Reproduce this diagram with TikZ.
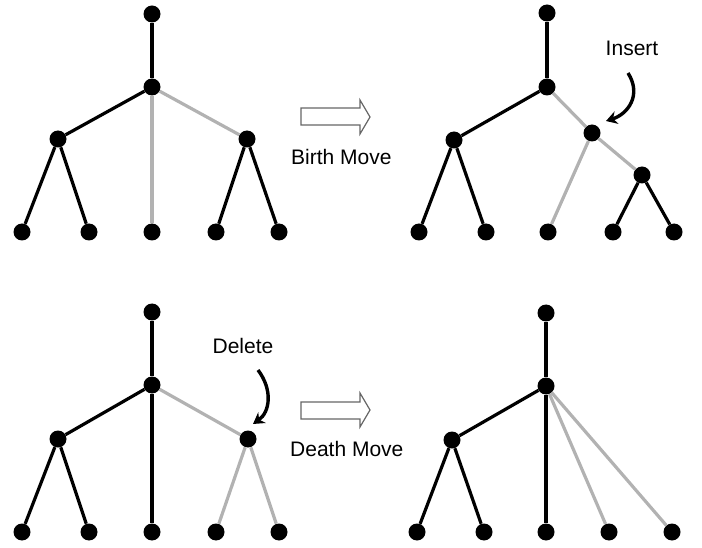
\documentclass[tikz,border=0pt]{standalone}
\usepackage{fontspec}
\setmainfont{Liberation Sans}
\usetikzlibrary{arrows.meta, positioning}

\begin{document}
\begin{tikzpicture}[x=1pt, y=-1pt,
        dot/.style={circle, fill=black, inner sep=0pt, minimum size=17pt},
        blackedge/.style={draw=black, line width=3.2pt},
        grayedge/.style={draw=black!30, line width=3.2pt},
        movearrow/.style={draw=black!60, fill=white, line width=1.2pt, line join=miter},
        pointer/.style={draw=black, line width=3.4pt, -{Stealth[length=11pt, width=13pt]}},
        label/.style={font=\fontsize{21}{24}\selectfont, inner sep=0pt}]

    \useasboundingbox (0,0) rectangle (702,548);

    % birth move, before
    \node[dot] (a0) at (152,14) {};
    \node[dot] (a1) at (152,87) {};
    \node[dot] (a2) at (58,139) {};
    \node[dot] (a3) at (247,139) {};
    \foreach \x [count=\i from 4] in {22, 89, 152, 216, 279}
        \node[dot] (a\i) at (\x,232) {};

    \draw[blackedge] (a0) -- (a1);
    \draw[blackedge] (a1) -- (a2);
    \draw[grayedge] (a1) -- (a3);
    \draw[grayedge] (a1) -- (a6);
    \draw[blackedge] (a2) -- (a4);
    \draw[blackedge] (a2) -- (a5);
    \draw[blackedge] (a3) -- (a7);
    \draw[blackedge] (a3) -- (a8);

    % birth move, after
    \node[dot] (b0) at (547,13) {};
    \node[dot] (b1) at (547,87) {};
    \node[dot] (b2) at (454,140) {};
    \node[dot] (b3) at (592,133) {};
    \node[dot] (b4) at (642,175) {};
    \foreach \x [count=\i from 5] in {419, 486, 548, 613, 674}
        \node[dot] (b\i) at (\x,232) {};

    \draw[blackedge] (b0) -- (b1);
    \draw[blackedge] (b1) -- (b2);
    \draw[grayedge] (b1) -- (b3);
    \draw[grayedge] (b3) -- (b7);
    \draw[grayedge] (b3) -- (b4);
    \draw[blackedge] (b2) -- (b5);
    \draw[blackedge] (b2) -- (b6);
    \draw[blackedge] (b4) -- (b8);
    \draw[blackedge] (b4) -- (b9);

    \node[label] (insert) at (632,48) {Insert};
    \coordinate (insertfrom) at (628,73);
    \coordinate (insertto) at (606,121);
    \draw[pointer] (insertfrom) .. controls (642,95) and (628,114) .. (insertto);

    % death move, before
    \node[dot] (c0) at (152,312) {};
    \node[dot] (c1) at (152,385) {};
    \node[dot] (c2) at (58,439) {};
    \node[dot] (c3) at (248,439) {};
    \foreach \x [count=\i from 4] in {22, 89, 152, 216, 279}
        \node[dot] (c\i) at (\x,532) {};

    \draw[blackedge] (c0) -- (c1);
    \draw[blackedge] (c1) -- (c2);
    \draw[blackedge] (c1) -- (c6);
    \draw[grayedge] (c1) -- (c3);
    \draw[blackedge] (c2) -- (c4);
    \draw[blackedge] (c2) -- (c5);
    \draw[grayedge] (c3) -- (c7);
    \draw[grayedge] (c3) -- (c8);

    \node[label] (delete) at (243,346) {Delete};
    \coordinate (deletefrom) at (258,370);
    \coordinate (deleteto) at (253,424);
    \draw[pointer] (deletefrom) .. controls (273,390) and (270,412) .. (deleteto);

    % death move, after
    \node[dot] (d0) at (546,313) {};
    \node[dot] (d1) at (546,386) {};
    \node[dot] (d2) at (452,440) {};
    \foreach \x [count=\i from 3] in {417, 484, 546, 609, 672}
        \node[dot] (d\i) at (\x,532) {};

    \draw[blackedge] (d0) -- (d1);
    \draw[blackedge] (d1) -- (d2);
    \draw[blackedge] (d1) -- (d5);
    \draw[grayedge] (d1) -- (d6);
    \draw[grayedge] (d1) -- (d7);
    \draw[blackedge] (d2) -- (d3);
    \draw[blackedge] (d2) -- (d4);

    % move arrows
    \draw[movearrow] (301,108) -- (360,108) -- (360,100) -- (370,117)
        -- (360,134) -- (360,125) -- (301,125) -- cycle;
    \node[label, anchor=west] (birth) at (291,157) {Birth Move};

    \draw[movearrow] (301,402) -- (360,402) -- (360,393) -- (370,410)
        -- (360,427) -- (360,419) -- (301,419) -- cycle;
    \node[label, anchor=west] (death) at (290,449) {Death Move};

\end{tikzpicture}
\end{document}
